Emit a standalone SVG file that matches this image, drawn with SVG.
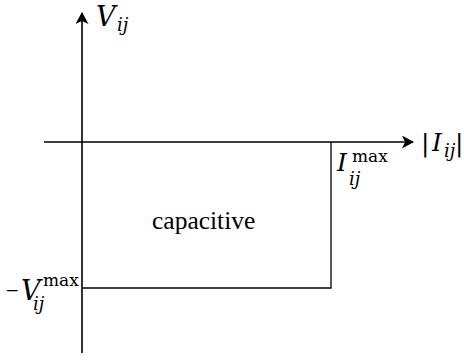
<svg xmlns="http://www.w3.org/2000/svg" width="464" height="360" viewBox="0 0 464 360">
<style>
.ax{stroke:#000;stroke-width:1.6;fill:none}
.ln{stroke:#000;stroke-width:1.3;fill:none}
text{fill:#000;font-family:'DejaVu Serif',serif}
.i{font-style:italic}
.t{font-family:'Liberation Serif','Times New Roman',serif}
</style>
<defs>
<marker id="ah" markerWidth="12" markerHeight="13" refX="11" refY="6.5" orient="auto" markerUnits="userSpaceOnUse">
<path d="M0,0 L12,6.5 L0,13 L3,6.5 Z" fill="#000"/>
</marker>
</defs>
<g id="connectors">
<line class="ax" x1="82" y1="353" x2="82" y2="13" marker-end="url(#ah)"/>
<line class="ax" x1="44" y1="142" x2="413" y2="142" marker-end="url(#ah)"/>
<polyline class="ln" points="82,288 331,288 331,142"/>
</g>
<g id="vlabel"><text class="i" x="96" y="26" font-size="27">V</text><text class="i" x="117" y="31" font-size="18">ij</text></g>
<g id="ilabel"><text x="421" y="151" font-size="25">|</text><text class="i" x="432" y="151" font-size="25">I</text><text class="i" x="444" y="157" font-size="18">ij</text><text x="455" y="151" font-size="25">|</text></g>
<g id="imax"><text class="i" x="337" y="171" font-size="25">I</text><text x="352" y="162" font-size="17">max</text><text class="i" x="349" y="185" font-size="18">ij</text></g>
<g id="vmax"><text x="5" y="296" font-size="17">−</text><text class="i" x="21" y="300" font-size="27">V</text><text x="43" y="286" font-size="17">max</text><text class="i" x="33" y="310" font-size="18">ij</text></g>
<g id="region"><text class="t" x="152" y="229" font-size="25.5">capacitive</text></g>
</svg>
